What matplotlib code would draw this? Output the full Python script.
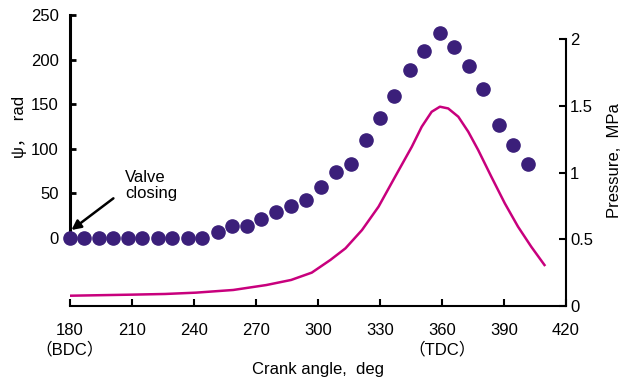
import matplotlib.pyplot as plt

# psi (left axis)
crank = [180, 187, 194, 201, 208, 215, 222.5, 229.5, 237, 244,
         251.5, 258.5, 265.5, 272.5, 279.5, 287, 294, 301.5, 308.5, 316,
         323, 330, 337, 344.5, 351.5, 359, 366, 373, 380, 387.5,
         394.5, 401.5]
psi = [0, 0, 0, 0, 0, 0, 0, 0, 0, 0,
       7, 13.5, 14, 21.5, 29.5, 36, 42.5, 57.5, 74, 83,
       110, 134, 159.5, 188.5, 210, 230, 214.5, 193, 167, 127,
       104.5, 83]

# pressure curve (right axis)
p_angle = [180, 210, 226, 241, 259, 275, 287, 297, 306, 313.3,
           321.3, 329.3, 337.3, 345.4, 350.2, 355, 359, 363, 367.9, 372.7,
           377.5, 383.9, 390.4, 396.8, 403.2, 409.6]
pressure = [0.077, 0.085, 0.09, 0.10, 0.12, 0.157, 0.195, 0.25, 0.345, 0.432,
            0.569, 0.744, 0.968, 1.193, 1.343, 1.455, 1.493, 1.48, 1.418, 1.306,
            1.169, 0.968, 0.769, 0.594, 0.444, 0.307]

xticks = [180, 210, 240, 270, 300, 330, 360, 390, 420]
xlabels = ['180\n（BDC）', '210', '240', '270', '300', '330', '360\n（TDC）', '390', '420']
psi_ticks = [0, 50, 100, 150, 200, 250]
p_ticks = [0, 0.5, 1, 1.5, 2]
p_labels = ['0', '0.5', '1', '1.5', '2']

plt.rcParams['font.family'] = ['Liberation Sans', 'Noto Sans CJK JP']

fig = plt.figure(figsize=(6.29, 3.78), dpi=100)
ax = fig.add_axes([0.1113, 0.1905, 0.7885, 0.7698])
ax2 = ax.twinx()

ax.plot(crank, psi, 'o', color='#3b1f7a', markersize=9.5, clip_on=False, zorder=3)
ax2.plot(p_angle, pressure, color='#c8007d', lw=1.8)

ax.set_xlim(180, 420)
ax.set_ylim(-76.2, 250)
ax2.set_ylim(0, 2.18)

ax.set_xticks(xticks)
ax.set_xticklabels(xlabels, fontsize=12, linespacing=1.3)
ax.set_yticks(psi_ticks)
ax.set_yticklabels([str(v) for v in psi_ticks], fontsize=12)
ax2.set_yticks(p_ticks)
ax2.set_yticklabels(p_labels, fontsize=12)

for s in ['top', 'right']:
    ax.spines[s].set_visible(False)
for s in ['top', 'left', 'bottom']:
    ax2.spines[s].set_visible(False)
ax.spines['left'].set_bounds(0, 250)
ax.spines['left'].set_linewidth(2.2)
ax.spines['bottom'].set_linewidth(1.5)
ax2.spines['right'].set_bounds(0, 2)
ax2.spines['right'].set_linewidth(1.5)

ax.tick_params(axis='y', direction='in', length=4, width=2, pad=8)
ax.tick_params(axis='x', direction='in', length=5, width=1.5, pad=12)
ax2.tick_params(axis='y', direction='in', length=5, width=1.5, pad=3)

ax.set_xlabel('Crank angle,  deg', fontsize=12, labelpad=3)
ax.set_ylabel('ψ，  rad', fontsize=12)
ax.yaxis.set_label_coords(-0.087, 0.615)
ax2.set_ylabel('Pressure,  MPa', fontsize=12, labelpad=10)

ax.annotate('', xy=(180.7, 9), xytext=(201, 44.5),
            arrowprops=dict(arrowstyle='-|>', color='black', lw=1.8,
                            mutation_scale=14, shrinkA=0, shrinkB=0))
ax.text(206.5, 42, 'Valve\nclosing', fontsize=12, ha='left', va='bottom',
        linespacing=1.05)

fig.savefig('out.png', dpi=100)
